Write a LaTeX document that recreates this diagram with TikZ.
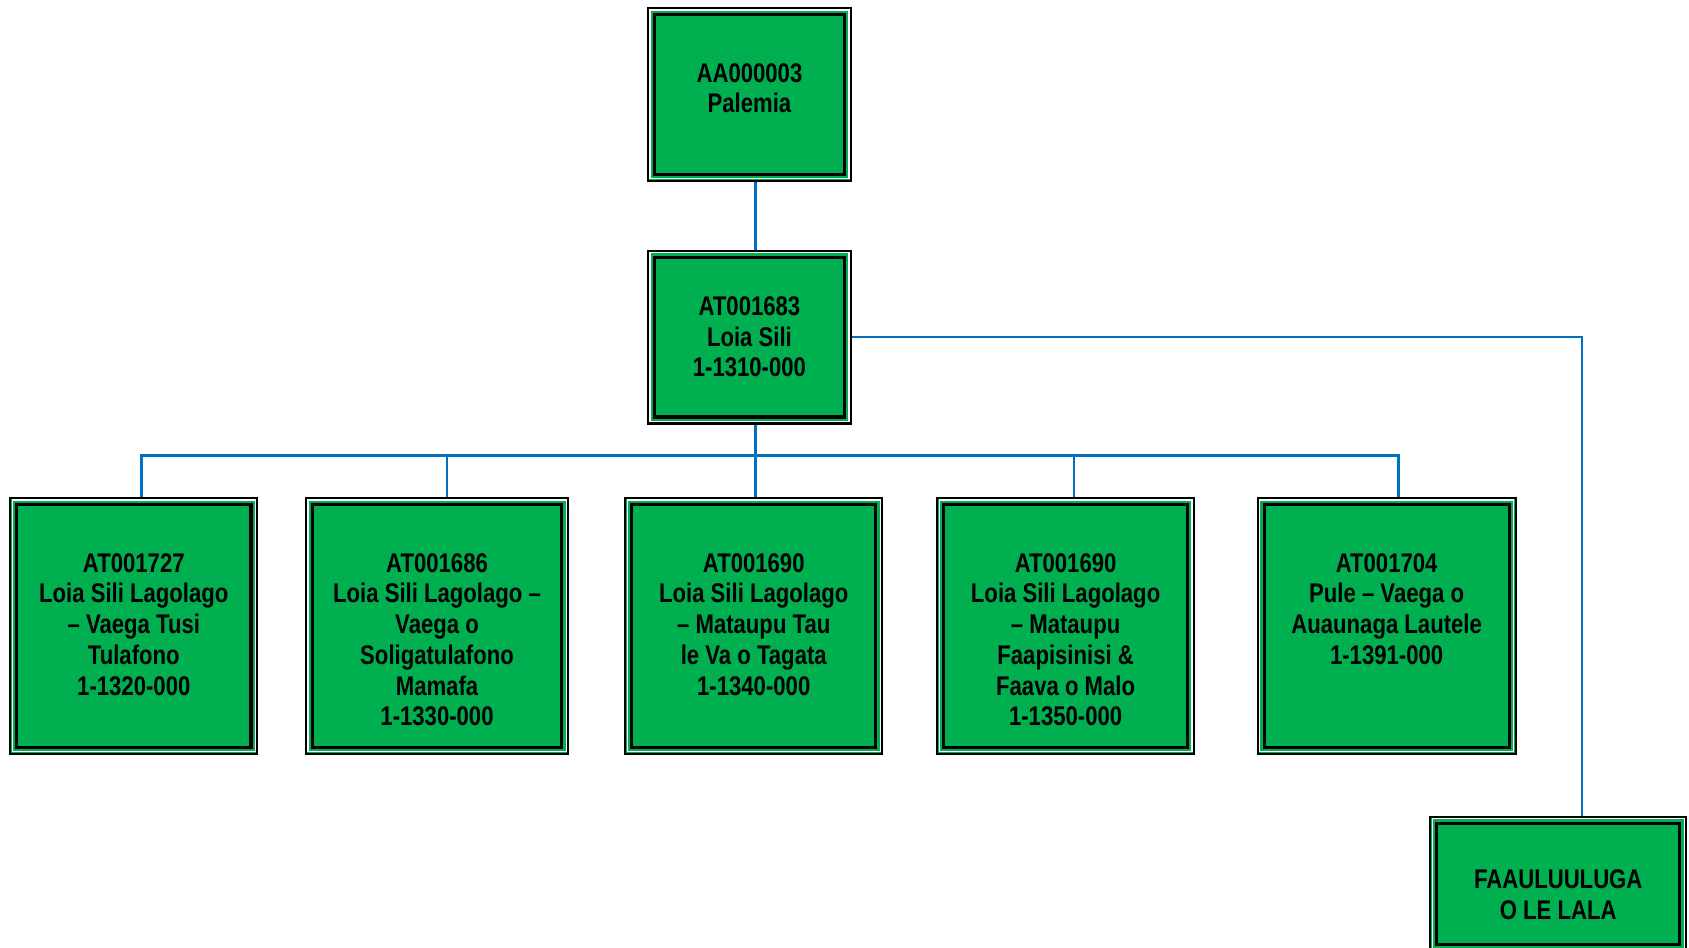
\documentclass[tikz,border=0pt]{standalone}
\usepackage{fontspec}
\setmainfont{Liberation Sans}[FakeStretch=0.82]
\usepackage{tikz}
\usetikzlibrary{calc, positioning}
\definecolor{unitgreen}{RGB}{0,176,80}
\definecolor{linkblue}{RGB}{0,112,192}
\tikzstyle{unit}=[draw=black, line width=2pt, fill=unitgreen, inner sep=0pt,
	path picture={
		\draw[white, line width=1.2pt] ([shift={(1.8pt,1.8pt)}]path picture bounding box.south west) rectangle ([shift={(-1.8pt,-1.8pt)}]path picture bounding box.north east);
		\draw[black, line width=3pt] ([shift={(6pt,6pt)}]path picture bounding box.south west) rectangle ([shift={(-6pt,-6pt)}]path picture bounding box.north east);
	}]
\tikzstyle{unittext}=[align=center, inner sep=0pt, anchor=north]
\tikzstyle{link}=[draw=linkblue, line width=2.2pt]

\begin{document}
\begin{tikzpicture}[x=1pt, y=-1pt, font=\fontsize{25}{28.5}\selectfont\bfseries]
		\useasboundingbox (0,0) rectangle (1565.2,878.5);
		\node[unit, minimum width=188pt, minimum height=160pt] (top) at (694.5,87.5) {};
		\node[unit, minimum width=188pt, minimum height=160pt] (mid) at (694.5,312.5) {};
		\node[unit, minimum width=229pt, minimum height=237pt] (b1) at (124,580) {};
		\node[unit, minimum width=243pt, minimum height=237pt] (b2) at (405,580) {};
		\node[unit, minimum width=238pt, minimum height=237pt] (b3) at (698.5,580) {};
		\node[unit, minimum width=238pt, minimum height=237pt] (b4) at (987.5,580) {};
		\node[unit, minimum width=239pt, minimum height=237pt] (b5) at (1285,580) {};
		\node[unit, minimum width=237pt, minimum height=124pt] (fa) at (1444,819) {};

		\node[unittext, below=52pt of top.north] (toptext) {AA000003\\Palemia};
		\node[unittext, below=43pt of mid.north] (midtext) {AT001683\\Loia Sili\\1-1310-000};
		\node[unittext, below=52pt of b1.north] (b1text) {AT001727\\Loia Sili Lagolago\\– Vaega Tusi\\Tulafono\\1-1320-000};
		\node[unittext, below=52pt of b2.north] (b2text) {AT001686\\Loia Sili Lagolago –\\Vaega o\\Soligatulafono\\Mamafa\\1-1330-000};
		\node[unittext, below=52pt of b3.north] (b3text) {AT001690\\Loia Sili Lagolago\\– Mataupu Tau\\le Va o Tagata\\1-1340-000};
		\node[unittext, below=52pt of b4.north] (b4text) {AT001690\\Loia Sili Lagolago\\– Mataupu\\Faapisinisi \&\\Faava o Malo\\1-1350-000};
		\node[unittext, below=52pt of b5.north] (b5text) {AT001704\\Pule – Vaega o\\Auaunaga Lautele\\1-1391-000};
		\node[unittext, below=50pt of fa.north] (fatext) {FAAULUULUGA\\O LE LALA};

		\coordinate (bus) at (700,422);
		\draw[link] ([xshift=5.5pt]top.south) -- ([xshift=5.5pt]mid.north);
		\draw[link] (mid.south -| bus) -- (bus);
		\foreach \n/\s in {b1/7, b2/9, b3/1.5, b4/7.5, b5/11}
			\draw[link] ([xshift=\s pt]\n.north) |- (bus);
		\draw[link] (mid.east) -| ([xshift=22pt]fa.north);
	\end{tikzpicture}
\end{document}
